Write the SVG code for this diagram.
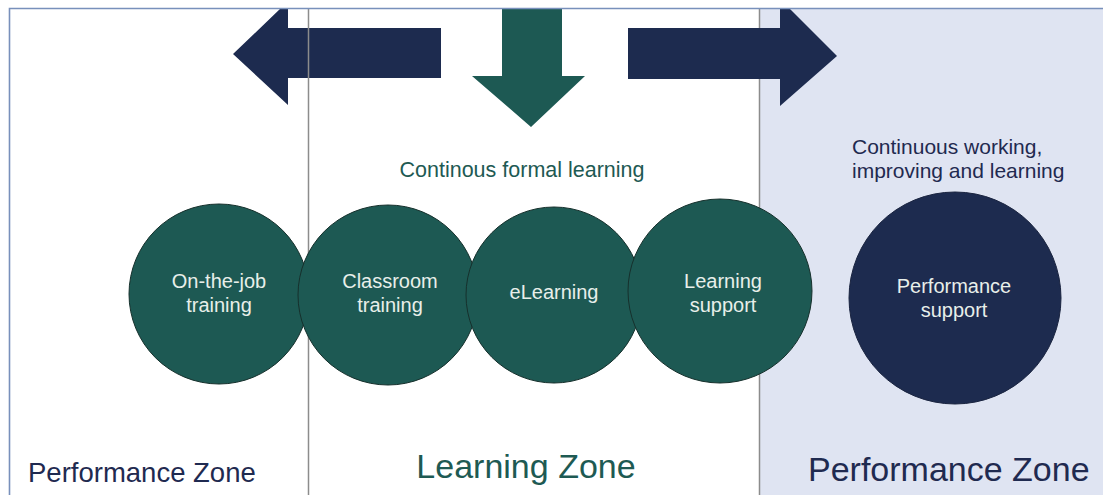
<svg xmlns="http://www.w3.org/2000/svg" width="1103" height="495" viewBox="0 0 1103 495">
  <style>
    .divider { stroke: #8c8c8c; stroke-width: 1.5; }
    .frame { stroke: #7890bb; stroke-width: 1.6; fill: none; }
    .navy { fill: #1d2b4f; }
    .teal { fill: #1d5953; }
    .bubble { fill: #1d5953; stroke: #16302c; stroke-width: 1; }
    .bubble-navy { fill: #1d2b4f; stroke: #1a2440; stroke-width: 1; }
    .inner { font-family: "Liberation Sans", Arial, sans-serif; font-size: 20px; fill: #e8efea; text-anchor: middle; }
    .caption-teal { font-family: "Liberation Sans", Arial, sans-serif; font-size: 21.5px; fill: #1e5a53; }
    .caption-navy { font-family: "Liberation Sans", Arial, sans-serif; font-size: 21px; fill: #1f2a50; }
    .zone { font-family: "Liberation Sans", Arial, sans-serif; }
  </style>

  <!-- background panels -->
  <rect x="0" y="0" width="1103" height="495" fill="#ffffff"/>
  <rect x="760" y="8" width="343" height="487" fill="#dfe4f2"/>

  <!-- right divider sits under the arrows -->
  <line class="divider" x1="759.5" y1="8" x2="759.5" y2="495"/>

  <!-- direction arrows -->
  <g id="arrows">
    <polygon id="arrow-left" class="navy" points="441,28 288,28 288,8 281,8 233,54 288,105 288,78 441,78"/>
    <polygon id="arrow-down" class="teal" points="502,8 562,8 562,76 585,76 531,127 472,76 502,76"/>
    <polygon id="arrow-right" class="navy" points="628,28 780,28 780,8 789,8 837,56 780,106 780,79 628,79"/>
  </g>

  <!-- left divider drawn over the left arrow -->
  <line class="divider" x1="308.5" y1="8" x2="308.5" y2="495"/>

  <!-- outer frame: top and left edges -->
  <path class="frame" d="M9.5,495 V8.5 H1103"/>

  <!-- connectors: none between the nodes -->
  <g id="connectors"></g>

  <!-- captions -->
  <text class="caption-teal" x="522" y="177" text-anchor="middle">Continous formal learning</text>
  <text class="caption-navy" x="852" y="154">Continuous working,</text>
  <text class="caption-navy" x="852" y="178">improving and learning</text>

  <!-- learning modes -->
  <g id="node-on-the-job">
    <circle class="bubble" cx="219" cy="294" r="90"/>
    <text class="inner" x="219" y="288">On-the-job</text>
    <text class="inner" x="219" y="312">training</text>
  </g>
  <g id="node-classroom">
    <circle class="bubble" cx="388" cy="295" r="90"/>
    <text class="inner" x="390" y="288">Classroom</text>
    <text class="inner" x="390" y="312">training</text>
  </g>
  <g id="node-elearning">
    <circle class="bubble" cx="554" cy="295" r="88"/>
    <text class="inner" x="554" y="299">eLearning</text>
  </g>
  <g id="node-learning-support">
    <circle class="bubble" cx="720" cy="291" r="92"/>
    <text class="inner" x="723" y="288">Learning</text>
    <text class="inner" x="723" y="312">support</text>
  </g>
  <g id="node-performance-support">
    <circle class="bubble-navy" cx="955" cy="298" r="106"/>
    <text class="inner" x="954" y="293">Performance</text>
    <text class="inner" x="954" y="317">support</text>
  </g>

  <!-- zone labels -->
  <text class="zone" x="28" y="482" font-size="27.5" fill="#1f2a50">Performance Zone</text>
  <text class="zone" x="526" y="478" font-size="34" fill="#1e5a53" text-anchor="middle">Learning Zone</text>
  <text class="zone" x="808" y="481" font-size="34" fill="#1f2a50">Performance Zone</text>
</svg>
